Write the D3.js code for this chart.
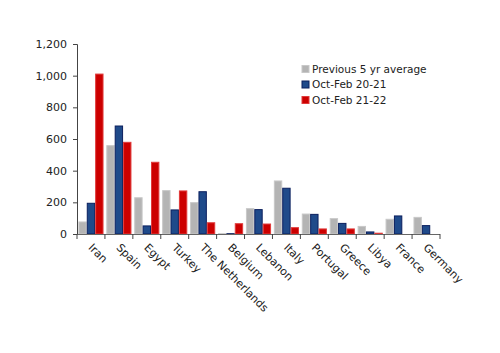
<!DOCTYPE html>
<html><head><meta charset="utf-8">
<script src="https://cdn.jsdelivr.net/npm/d3@7"></script>
<style>body{margin:0;background:#fff}svg{display:block}text{font-family:"DejaVu Sans",Verdana,sans-serif}</style>
</head><body><svg id="c" width="500" height="353"></svg>
<script>
const categories = ["Iran","Spain","Egypt","Turkey","The Netherlands","Belgium","Lebanon","Italy","Portugal","Greece","Libya","France","Germany"];
const seriesNames = ["Previous 5 yr average","Oct-Feb 20-21","Oct-Feb 21-22"];
const prev5 = [76,558,229,274,198,2,160,335,126,97,48,93,105];
const y2021 = [194,682,51,152,267,2,154,289,124,67,13,114,53];
const y2122 = [1010,579,453,272,71,65,63,40,32,32,5,0,0];
const yTicks = [0,200,400,600,800,1000,1200];

const fills = ["#b4b4b4","#1f4a8a","#cc0000"];
const strokes = ["#c8c8c8","#0b1f5e","#e03a3a"];
const series = [prev5, y2021, y2122];

const svg = d3.select("#c");
const m = {l:77, r:60, t:44, b:119};
const x = d3.scaleBand().domain(categories).range([m.l, 440]).paddingInner(0.1).paddingOuter(0.05);
const x1 = d3.scaleBand().domain(d3.range(3)).range([0, x.bandwidth()]);
const y = d3.scaleLinear().domain([0,1200]).range([234, 44]);

const g = svg.append("g");
series.forEach((vals, si) => {
  g.selectAll(null).data(vals).join("rect")
    .attr("x", (d,i) => x(categories[i]) + x1(si) + 0.5)
    .attr("y", d => y(d))
    .attr("width", x1.bandwidth() - 1)
    .attr("height", d => y(0) - y(d))
    .attr("fill", fills[si])
    .attr("stroke", d => d > 0 ? strokes[si] : "none")
    .attr("stroke-width", 1);
});

// y axis
const ya = svg.append("g").attr("transform", `translate(${m.l},0)`)
  .call(d3.axisLeft(y).tickValues(yTicks).tickFormat(d3.format(",")).tickSize(4).tickPadding(6));
ya.select(".domain").attr("stroke","#444");
ya.selectAll(".tick line").attr("stroke","#444");
ya.selectAll("text").attr("font-size", 11).attr("fill","#222");

// x axis with ticks at boundaries
const xa = svg.append("g");
xa.append("line").attr("x1", m.l).attr("x2", 440).attr("y1", y(0)+0.5).attr("y2", y(0)+0.5).attr("stroke","#666");
const bounds = d3.range(categories.length + 1).map(i => m.l + i * (440 - m.l) / categories.length);
xa.selectAll(null).data(bounds).join("line")
  .attr("x1", d => d).attr("x2", d => d).attr("y1", y(0)).attr("y2", y(0)+5).attr("stroke","#444");
xa.selectAll(null).data(categories).join("text")
  .attr("transform", d => `translate(${x(d)+x.bandwidth()/2-0.5},${y(0)+11.5}) rotate(45)`)
  .attr("font-size", 11).attr("fill","#222").attr("dy","0.35em")
  .text(d => d);

// legend
const lg = svg.append("g").attr("transform","translate(302,69)");
seriesNames.forEach((n,i) => {
  const r = lg.append("g").attr("transform", `translate(0,${i*15.5})`);
  r.append("rect").attr("x",0).attr("y",-3.5).attr("width",7).attr("height",7).attr("fill",fills[i]).attr("stroke",strokes[i]);
  r.append("text").attr("x",10).attr("y",0).attr("dy","0.35em").attr("font-size",10.5).attr("fill","#222").text(n);
});
</script></body></html>
